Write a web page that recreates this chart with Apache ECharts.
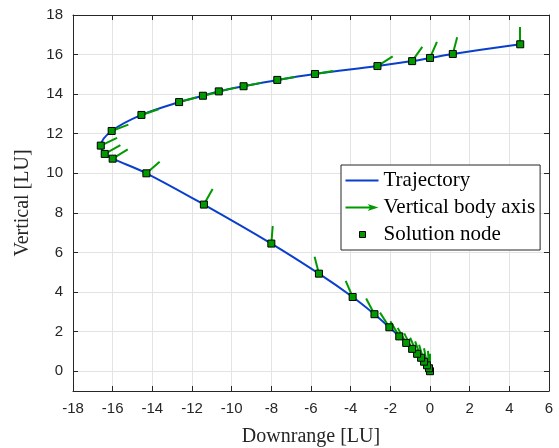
<!DOCTYPE html>
<html><head><meta charset="utf-8">
<script src="https://cdn.jsdelivr.net/npm/echarts@6/dist/echarts.min.js"></script>
<style>html,body{margin:0;padding:0;background:#fff}#c{width:559px;height:448px}</style>
</head><body><div id="c"></div>
<script>
// Tick values
const xTicks = [-18,-16,-14,-12,-10,-8,-6,-4,-2,0,2,4,6];
const yTicks = [0,2,4,6,8,10,12,14,16,18];
// Solution nodes along the trajectory (ordered from the origin)
const nodeX = [0,-0.05,-0.15,-0.3,-0.45,-0.65,-0.9,-1.2,-1.55,-2.05,-2.8,-3.9,-5.6,-8.0,-11.4,-14.3,-16.0,-16.4,-16.6,-16.05,-14.55,-12.65,-11.45,-10.65,-9.4,-7.7,-5.8,-2.65,-0.9,0.0,1.15,4.55];
const nodeY = [0,0.15,0.3,0.48,0.68,0.88,1.13,1.43,1.76,2.22,2.88,3.75,4.93,6.45,8.42,10.0,10.74,10.98,11.4,12.14,12.95,13.6,13.92,14.14,14.4,14.72,15.02,15.42,15.67,15.83,16.03,16.52];
// Vertical body axis components at each node
const axisU = [0,-0.05,-0.15,-0.25,-0.30,-0.35,-0.40,-0.43,-0.45,-0.47,-0.42,-0.35,-0.22,0.07,0.44,0.67,0.76,0.79,0.82,0.84,0.86,0.87,0.88,0.88,0.88,0.89,0.91,0.77,0.51,0.35,0.22,0];
const axisV = [0.88,0.88,0.86,0.86,0.83,0.81,0.78,0.76,0.76,0.74,0.79,0.82,0.86,0.89,0.79,0.59,0.47,0.44,0.39,0.32,0.29,0.23,0.20,0.19,0.17,0.15,0.15,0.49,0.72,0.81,0.84,0.87];

const AX = '#262626', GRID = '#e3e3e3', BLUE = '#0a3fcc', GREEN = '#009a00';
const serif = 'Liberation Serif', sans = 'Liberation Sans';

const pts = nodeX.map((x,i)=>[x,nodeY[i]]);
const arrows = nodeX.map((x,i)=>({coords:[[x,nodeY[i]],[x+axisU[i],nodeY[i]+axisV[i]]]}));

const chart = echarts.init(document.getElementById('c'));
chart.setOption({
  animation:false,
  backgroundColor:'#fff',
  grid:{left:73,right:10,top:15,bottom:57,containLabel:false,outerBoundsMode:'none'},
  xAxis:[{
    type:'value',min:-18,max:6,interval:2,position:'bottom',
    axisLine:{show:true,onZero:false,lineStyle:{color:AX,width:1}},
    axisTick:{show:true,inside:true,length:5,lineStyle:{color:AX}},
    axisLabel:{color:AX,fontFamily:sans,fontSize:15,margin:10,formatter:v=>String(v)},
    splitLine:{show:true,lineStyle:{color:GRID,width:1}},
    name:'Downrange [LU]',nameLocation:'middle',nameGap:36,
    nameTextStyle:{fontFamily:serif,fontSize:20,color:AX}
  },{
    type:'value',min:-18,max:6,interval:2,position:'top',
    axisLine:{show:true,onZero:false,lineStyle:{color:AX,width:1}},
    axisTick:{show:true,inside:true,length:5,lineStyle:{color:AX}},
    axisLabel:{show:false},splitLine:{show:false}
  }],
  yAxis:[{
    type:'value',min:-1,max:18,position:'left',
    axisLine:{show:true,onZero:false,lineStyle:{color:AX,width:1}},
    axisTick:{show:true,inside:true,length:5,lineStyle:{color:AX},customValues:yTicks},
    axisLabel:{color:AX,fontFamily:sans,fontSize:15,margin:10,customValues:yTicks},
    splitLine:{show:true,lineStyle:{color:GRID,width:1}},
    name:'Vertical [LU]',nameLocation:'middle',nameGap:40,nameRotate:90,
    nameTextStyle:{fontFamily:serif,fontSize:20,color:AX}
  },{
    type:'value',min:-1,max:18,position:'right',
    axisLine:{show:true,onZero:false,lineStyle:{color:AX,width:1}},
    axisTick:{show:true,inside:true,length:5,lineStyle:{color:AX},customValues:yTicks},
    axisLabel:{show:false},splitLine:{show:false}
  }],
  legend:{
    orient:'vertical',left:341,top:165,
    itemWidth:33,itemHeight:10,itemGap:6,
    padding:[5,5,5,4],
    borderColor:AX,borderWidth:1,backgroundColor:'#fff',borderRadius:0,
    textStyle:{fontFamily:serif,fontSize:21,color:'#000',lineHeight:18},
    data:[
      {name:'Trajectory',icon:'path://M0,0L0,0ZM0,4H33V6H0ZM33,10L33,10Z',itemStyle:{color:BLUE,borderWidth:0}},
      {name:'Vertical body axis',icon:'path://M0,0L0,0ZM0,4H25V6H0ZM22,1.6L33,5L22,8.4L25,5ZM33,10L33,10Z',itemStyle:{color:GREEN,borderWidth:0}},
      {name:'Solution node',icon:'path://M0,0L0,0ZM14,2H20V8H14ZM33,10L33,10Z',itemStyle:{color:GREEN,borderColor:'#000',borderWidth:1}}
    ]
  },
  series:[{
    name:'Trajectory',type:'line',data:pts,smooth:0.35,showSymbol:false,
    lineStyle:{color:BLUE,width:2},itemStyle:{color:BLUE},z:2
  },{
    name:'Vertical body axis',type:'lines',coordinateSystem:'cartesian2d',
    xAxisIndex:0,yAxisIndex:0,data:arrows,symbol:'none',
    lineStyle:{color:GREEN,width:2,opacity:1,curveness:0},itemStyle:{color:GREEN},z:3
  },{
    name:'Solution node',type:'scatter',data:pts,symbol:'rect',symbolSize:7,
    itemStyle:{color:GREEN,borderColor:'#000',borderWidth:1,opacity:1},z:4
  }]
});
</script></body></html>
